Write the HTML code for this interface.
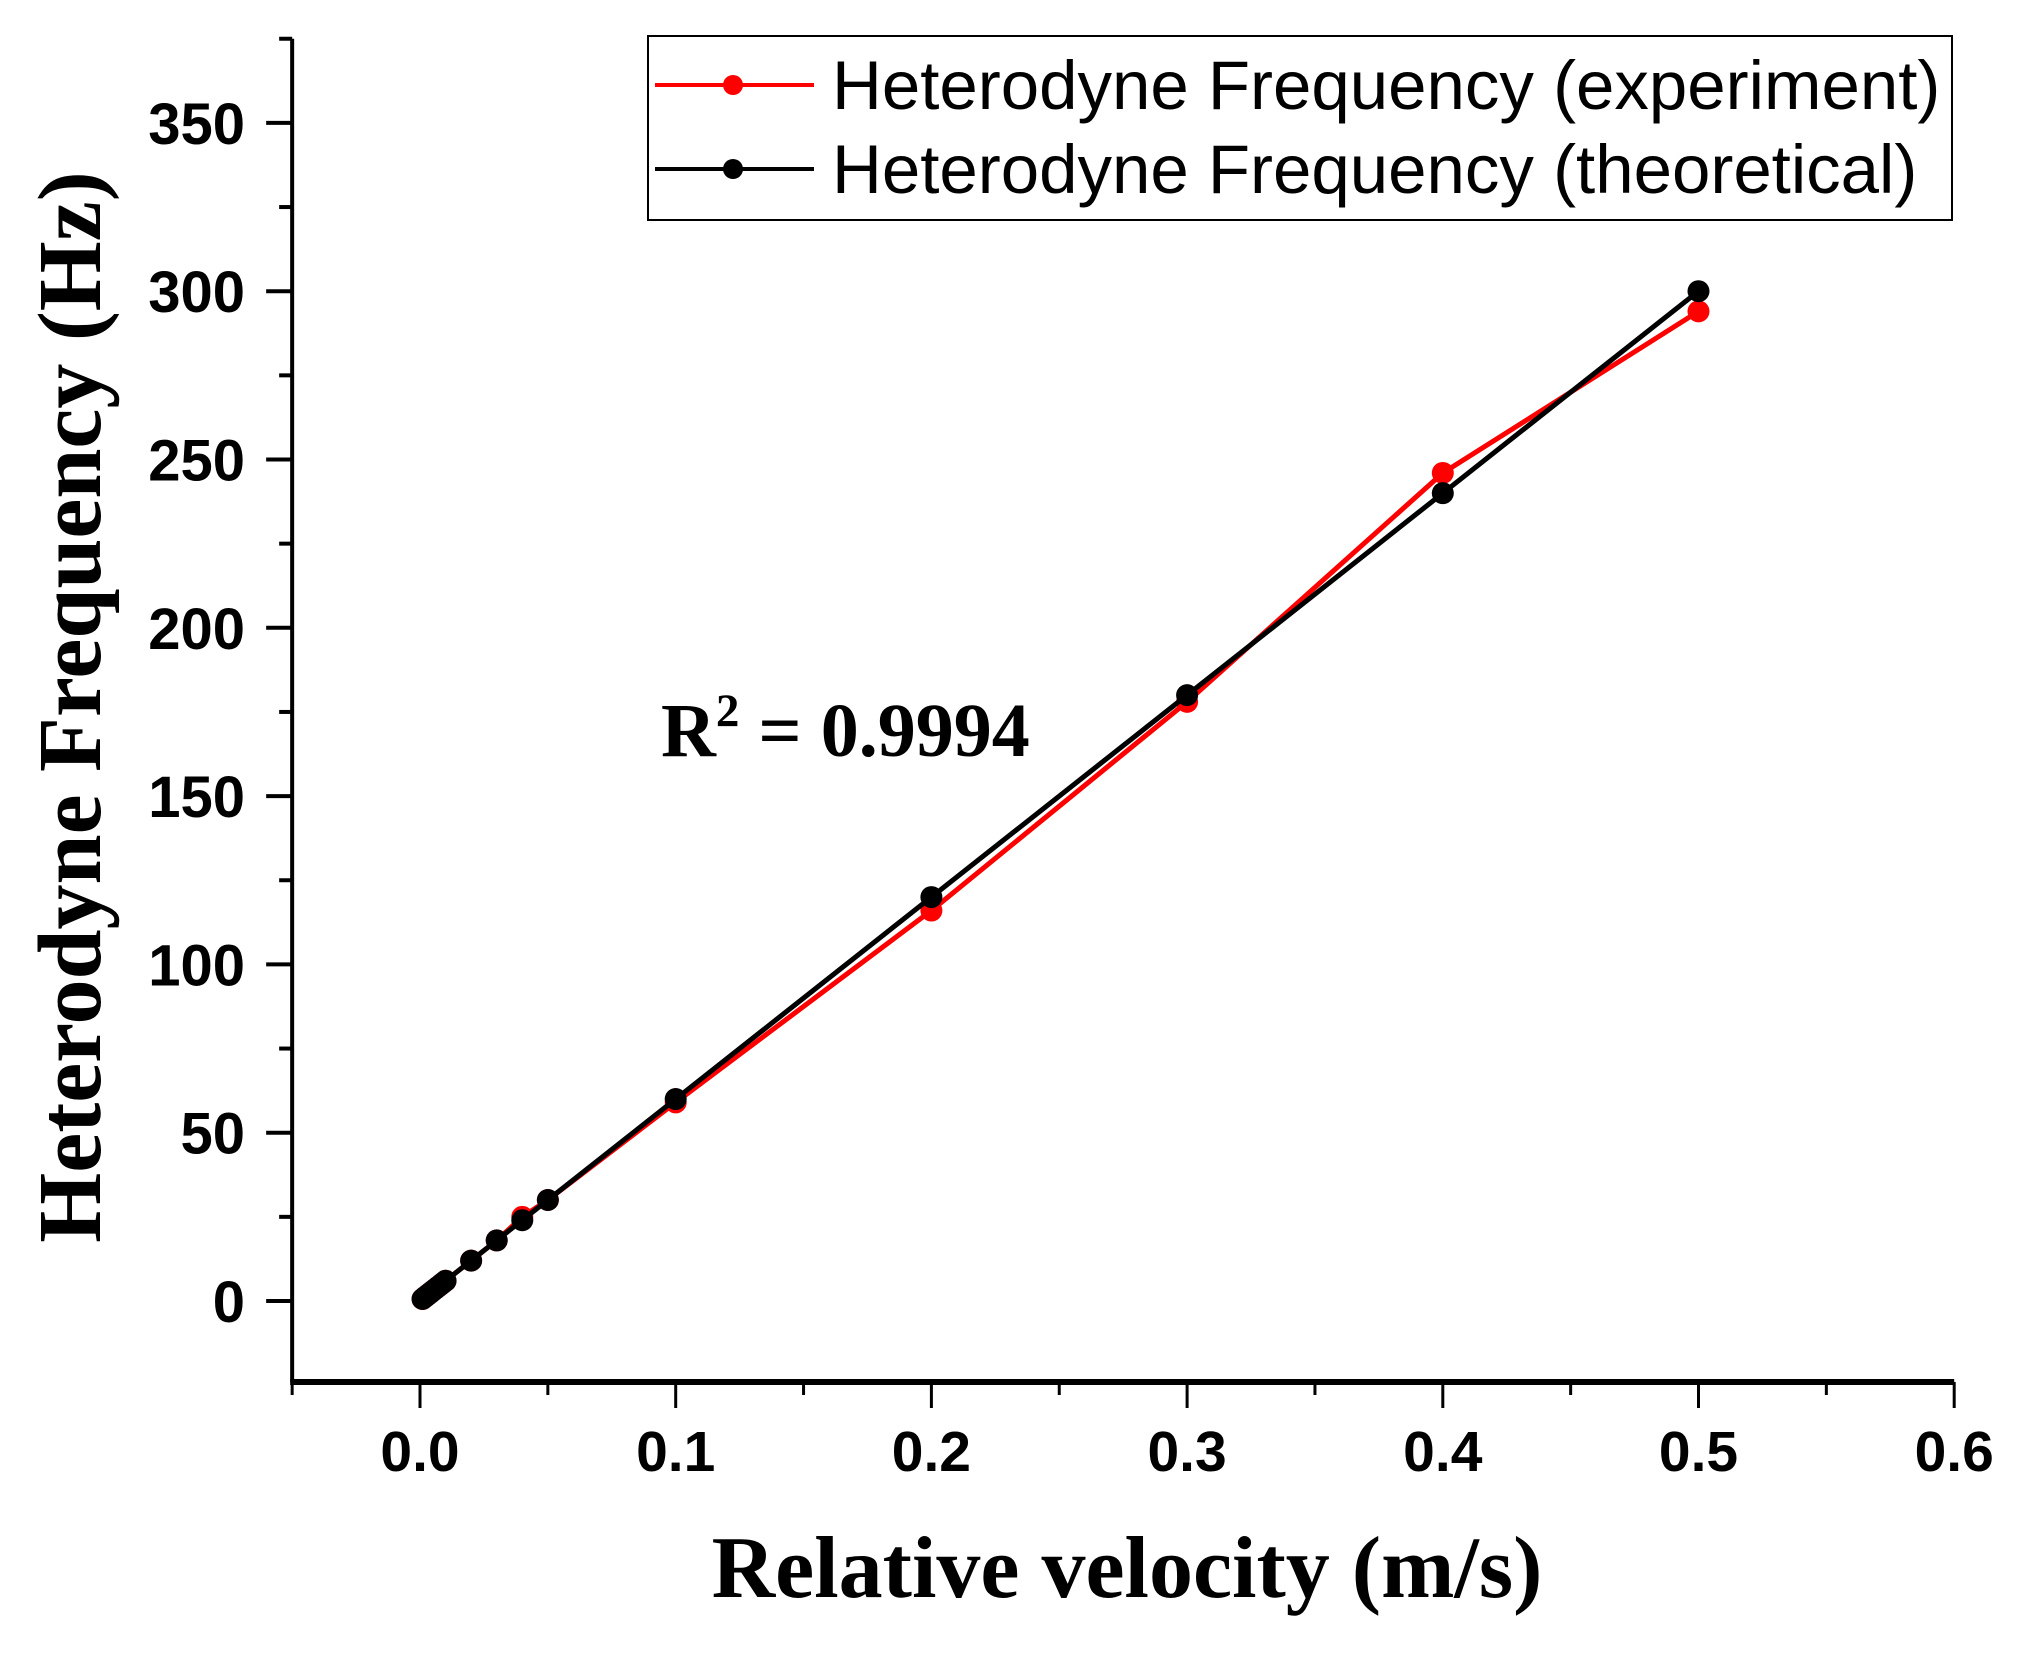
<!DOCTYPE html>
<html><head><meta charset="utf-8"><style>
body{margin:0;background:#fff}
svg{display:block}
</style></head><body>
<svg id="chart" width="2033" height="1655" viewBox="0 0 2033 1655">
<g id="axes"></g>
<g id="series"></g>
<text x="1127" y="1597" text-anchor="middle" font-family="Liberation Serif, serif" font-weight="bold" font-size="88">Relative velocity (m/s)</text>
<text transform="translate(100,707) rotate(-90)" text-anchor="middle" font-family="Liberation Serif, serif" font-weight="bold" font-size="90">Heterodyne Frequency (Hz)</text>
<text x="661" y="756" font-family="Liberation Serif, serif" font-weight="bold" font-size="76">R<tspan dy="-30" font-size="47">2</tspan><tspan dy="30"> = 0.9994</tspan></text>
<g>
<rect x="648" y="36" width="1304" height="184" fill="#fff" stroke="#000" stroke-width="2"/>
<g>
<line x1="655" y1="85" x2="814" y2="85" stroke="#f00" stroke-width="4"/>
<circle cx="733" cy="85" r="10" fill="#f00"/>
<text x="832" y="109" font-family="Liberation Sans, sans-serif" font-size="69">Heterodyne Frequency (experiment)</text>
</g>
<g>
<line x1="655" y1="169" x2="814" y2="169" stroke="#000" stroke-width="4"/>
<circle cx="733" cy="169" r="10" fill="#000"/>
<text x="832" y="193" font-family="Liberation Sans, sans-serif" font-size="69">Heterodyne Frequency (theoretical)</text>
</g>
</g>
</svg>
<script>
const velocities=[0.001,0.002,0.003,0.004,0.005,0.006,0.007,0.008,0.009,0.01,0.02,0.03,0.04,0.05,0.1,0.2,0.3,0.4,0.5];
const experimentHz=[0.6,1.2,1.8,2.4,3.0,3.6,4.2,4.8,5.4,6.0,12,18,25,30,59,116,178,246,294];
const theoreticalHz=[0.6,1.2,1.8,2.4,3.0,3.6,4.2,4.8,5.4,6.0,12,18,24,30,60,120,180,240,300];
const xTicks=[0,0.1,0.2,0.3,0.4,0.5,0.6];
const xTickLabels=["0.0","0.1","0.2","0.3","0.4","0.5","0.6"];
const yTicks=[0,50,100,150,200,250,300,350];
const yTickLabels=["0","50","100","150","200","250","300","350"];
const NS="http://www.w3.org/2000/svg";
const X0=420,XS=2557,Y0=1301,YS=3.366;
function xp(v){return X0+v*XS;}
function yp(v){return Y0-v*YS;}
const axesG=document.getElementById('axes'),seriesG=document.getElementById('series');
function mk(tag,attrs,parent){const e=document.createElementNS(NS,tag);for(const k in attrs)e.setAttribute(k,attrs[k]);parent.appendChild(e);return e;}
const axLeft=xp(-0.05),axRight=xp(0.6),axTop=yp(375),axBottom=1382;
let a=mk('line',{x1:axLeft,y1:axTop,x2:axLeft,y2:axBottom,stroke:'#000','stroke-width':4},axesG);


a=mk('line',{x1:axLeft-2,y1:axBottom,x2:axRight,y2:axBottom,stroke:'#000','stroke-width':6},axesG);


mk('line',{x1:axLeft-13,y1:axTop,x2:axLeft,y2:axTop,stroke:'#000','stroke-width':4},axesG);
for(let i=0;i<xTicks.length;i++){
  const x=xp(xTicks[i]);
  mk('line',{x1:x,y1:axBottom,x2:x,y2:1408,stroke:'#000','stroke-width':3},axesG);
  const t=mk('text',{x:x,y:1471,'text-anchor':'middle','font-family':'Liberation Sans, sans-serif','font-weight':'bold','font-size':57},axesG);
  t.textContent=xTickLabels[i];
  
  
}
for(let i=0;i<7;i++){const x=xp(-0.05+i*0.1);mk('line',{x1:x,y1:axBottom,x2:x,y2:1395,stroke:'#000','stroke-width':3},axesG);}
for(let i=0;i<yTicks.length;i++){
  const y=yp(yTicks[i]);
  mk('line',{x1:axLeft-26,y1:y,x2:axLeft,y2:y,stroke:'#000','stroke-width':4},axesG);
  const t=mk('text',{x:245,y:y+21,'text-anchor':'end','font-family':'Liberation Sans, sans-serif','font-weight':'bold','font-size':58},axesG);
  t.textContent=yTickLabels[i];
  
  
}
for(let v=-25;v<375;v+=50){const y=yp(v);if(y<axBottom-5)mk('line',{x1:axLeft-13,y1:y,x2:axLeft,y2:y,stroke:'#000','stroke-width':4},axesG);}
function draw(vals,color,name){
  const g=mk('g',{},seriesG);
  
  
  const pts=velocities.map((v,i)=>xp(v)+','+yp(vals[i])).join(' ');
  mk('polyline',{points:pts,fill:'none',stroke:color,'stroke-width':5,'stroke-linejoin':'round'},g);
  velocities.forEach((v,i)=>{
    const c=mk('circle',{cx:xp(v),cy:yp(vals[i]),r:11,fill:color},g);
    
    
  });
}
draw(experimentHz,'#f00','experiment-series');
draw(theoreticalHz,'#000','theoretical-series');
</script>
</body></html>
